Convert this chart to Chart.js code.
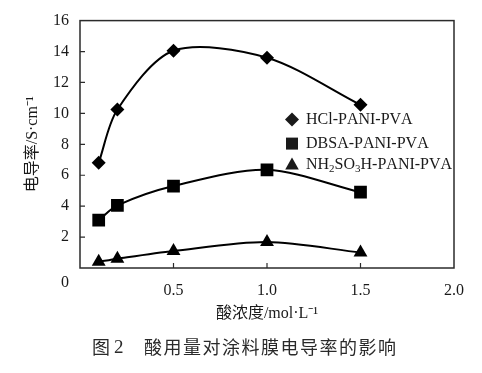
<!DOCTYPE html>
<html>
<head>
<meta charset="utf-8">
<script src="https://cdn.jsdelivr.net/npm/chart.js@4/dist/chart.umd.min.js"></script>
<style>
  html, body { margin: 0; padding: 0; background: #fff; }
  #wrap { width: 482px; height: 373px; position: relative; }
</style>
</head>
<body>
<div id="wrap"><canvas id="chart"></canvas></div>
<script>
// データ
const concentrations = [0.1, 0.2, 0.5, 1.0, 1.5];
const hclValues = [6.8, 10.25, 14.05, 13.6, 10.55];
const dbsaValues = [3.1, 4.05, 5.3, 6.35, 4.9];
const nhValues = [0.4, 0.6, 1.1, 1.68, 1.0];
const seriesNames = ["HCl-PANI-PVA", "DBSA-PANI-PVA", "NH2SO3H-PANI-PVA"];
const xTicks = [0, 0.5, 1.0, 1.5, 2.0];
const yTicks = [0, 2, 4, 6, 8, 10, 12, 14, 16];
const xTitle = "酸浓度/mol·L⁻¹";
const yTitle = "电导率/S·cm⁻¹";
const caption = "酸用量对涂料膜电导率的影响";

const SERIF = "'Liberation Serif', 'Times New Roman', 'Noto Sans CJK SC', serif";
Chart.defaults.font.family = SERIF;
Chart.defaults.font.size = 16;
Chart.defaults.color = "#1a1a1a";

function toPoints(values) {
  return concentrations.map((x, i) => ({ x: x, y: values[i] }));
}

// 凡例のマーカー
function marker(ctx, style, x, y) {
  ctx.beginPath();
  if (style === "rectRot") {
    ctx.moveTo(x, y - 7); ctx.lineTo(x + 7, y);
    ctx.lineTo(x, y + 7); ctx.lineTo(x - 7, y);
  } else if (style === "rect") {
    ctx.rect(x - 6, y - 6, 12, 12);
  } else {
    ctx.moveTo(x, y - 7.5); ctx.lineTo(x + 6.8, y + 4.5);
    ctx.lineTo(x - 6.8, y + 4.5);
  }
  ctx.closePath();
  ctx.fill();
}

// 数字を下付きで描く
function subText(ctx, text, x, y) {
  let cx = x;
  for (const ch of text) {
    if (/[0-9]/.test(ch)) {
      ctx.font = "11px " + SERIF;
      ctx.fillText(ch, cx, y + 4);
    } else {
      ctx.font = "16px " + SERIF;
      ctx.fillText(ch, cx, y);
    }
    cx += ctx.measureText(ch).width;
  }
}

const styles = ["rectRot", "rect", "triangle"];

const extras = {
  id: "extras",
  beforeDatasetsDraw(chart) {
    const { ctx, chartArea: a, scales } = chart;
    ctx.save();
    ctx.strokeStyle = "#2b2b2b";
    ctx.lineWidth = 1.5;
    ctx.strokeRect(a.left, a.top, a.right - a.left, a.bottom - a.top);
    ctx.lineWidth = 1.2;
    ctx.beginPath();
    yTicks.forEach((v) => {
      if (v <= 0 || v >= 16) return;
      const py = scales.y.getPixelForValue(v);
      ctx.moveTo(a.left, py); ctx.lineTo(a.left + 5, py);
    });
    xTicks.forEach((v) => {
      if (v <= 0 || v >= 2) return;
      const px = scales.x.getPixelForValue(v);
      ctx.moveTo(px, a.bottom); ctx.lineTo(px, a.bottom - 5);
    });
    ctx.stroke();
    ctx.restore();
  },
  afterDraw(chart) {
    const { ctx, chartArea: a } = chart;
    ctx.save();
    ctx.fillStyle = "#1a1a1a";
    ctx.textBaseline = "middle";
    // 原点の 0
    ctx.font = "16px " + SERIF;
    ctx.textAlign = "center";
    ctx.fillText("0", a.left - 15, a.bottom + 15);
    // 凡例
    ctx.textAlign = "left";
    const rows = [99, 123, 144.5];
    seriesNames.forEach((name, i) => {
      const ry = a.top + rows[i];
      marker(ctx, styles[i], a.left + 212, ry);
      subText(ctx, name, a.left + 226, ry);
    });
    // 図タイトル
    ctx.fillStyle = "#2a2a2a";
    ctx.font = "18px 'Noto Sans CJK SC', sans-serif";
    ctx.fillText("图", 92, 347);
    ctx.font = "19px " + SERIF;
    ctx.fillText("2", 114, 348);
    ctx.font = "18px 'Noto Sans CJK SC', sans-serif";
    ctx.letterSpacing = "1.5px";
    ctx.fillText(caption, 144, 347);
    ctx.restore();
  },
};

function makeDataset(label, values, style, radius) {
  return {
    label: label,
    data: toPoints(values),
    borderColor: "#000",
    backgroundColor: "#000",
    borderWidth: 2,
    tension: 0.3,
    pointStyle: style,
    pointRadius: radius,
    pointHoverRadius: radius,
    pointBorderWidth: 0,
  };
}

const tickFont = { size: 16, family: SERIF };

const ctx = document.getElementById("chart").getContext("2d");
new Chart(ctx, {
  type: "line",
  data: {
    datasets: [
      makeDataset(seriesNames[0], hclValues, "rectRot", 7),
      makeDataset(seriesNames[1], dbsaValues, "rect", 9),
      makeDataset(seriesNames[2], nhValues, "triangle", 8),
    ],
  },
  options: {
    responsive: true,
    maintainAspectRatio: false,
    animation: false,
    layout: { padding: { left: 0, top: 18, right: 28, bottom: 45 } },
    plugins: {
      legend: { display: false },
      tooltip: { enabled: false },
    },
    scales: {
      x: {
        type: "linear",
        min: 0,
        max: 2,
        afterFit: (s) => { s.height = 60; },
        afterBuildTicks: (s) => { s.ticks = xTicks.map((v) => ({ value: v })); },
        grid: { display: false, drawTicks: false },
        border: { display: false },
        ticks: {
          padding: 13,
          font: tickFont,
          color: "#1a1a1a",
          callback: (v) => (v === 0 ? "" : v.toFixed(1)),
        },
        title: {
          display: true,
          text: xTitle,
          padding: 5,
          font: { size: 16, family: SERIF },
        },
      },
      y: {
        min: 0,
        max: 16,
        afterFit: (s) => { s.width = 80; },
        afterBuildTicks: (s) => { s.ticks = yTicks.map((v) => ({ value: v })); },
        grid: { display: false, drawTicks: false },
        border: { display: false },
        ticks: {
          padding: 11,
          font: tickFont,
          color: "#1a1a1a",
          callback: (v) => (v === 0 ? "" : String(v)),
        },
        title: {
          display: true,
          text: yTitle,
          padding: 23,
          font: { size: 16, family: SERIF },
        },
      },
    },
  },
  plugins: [extras],
});
</script>
</body>
</html>
